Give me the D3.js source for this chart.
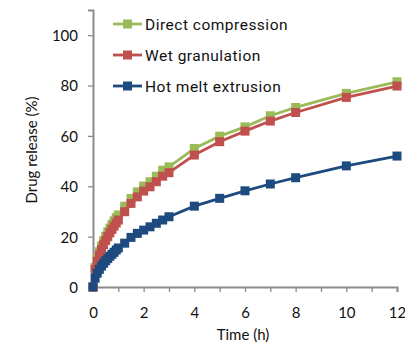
<!DOCTYPE html>
<html>
<head>
<meta charset="utf-8">
<script src="https://cdn.jsdelivr.net/npm/d3@7"></script>
<style>
  html, body { margin: 0; padding: 0; background: #fff; }
  svg { display: block; }
  text { font-family: Lato, "Open Sans", sans-serif; fill: #111; }
  .legend text { font-family: Roboto, "Open Sans", sans-serif; letter-spacing: 0.5px; }
</style>
</head>
<body>
<svg id="chart" width="405" height="343"></svg>
<script>
// Sampling times (h)
const times = [0, 0.083, 0.167, 0.25, 0.333, 0.417, 0.5, 0.583, 0.667, 0.75, 0.833, 0.917, 1,
  1.25, 1.5, 1.75, 2, 2.25, 2.5, 2.75, 3, 4, 5, 6, 7, 8, 10, 12];

// Cumulative drug release (%) for each formulation
const directCompression = [0, 7.8, 11.3, 14.0, 16.3, 18.3, 20.2, 21.9, 23.4, 24.9, 26.3, 27.5, 28.6,
  32.1, 35.2, 37.8, 40.1, 41.8, 44.0, 46.4, 47.7, 55.0, 59.9, 63.6, 68.0, 71.3, 76.9, 81.5];
const wetGranulation = [0, 7.0, 10.2, 12.8, 14.9, 16.8, 18.5, 20.0, 21.5, 22.9, 24.2, 25.4, 26.6,
  29.9, 33.2, 35.8, 38.1, 39.8, 41.8, 44.0, 45.4, 52.4, 57.7, 61.9, 65.9, 69.3, 75.3, 79.8];
const hotMeltExtrusion = [0, 3.5, 5.5, 7.0, 8.3, 9.4, 10.4, 11.3, 12.2, 13.0, 13.8, 14.7, 15.5,
  17.4, 19.7, 21.3, 22.6, 23.9, 25.3, 26.6, 27.9, 32.1, 35.2, 38.2, 40.9, 43.4, 48.1, 52.0];

const seriesNames = ["Direct compression", "Wet granulation", "Hot melt extrusion"];
const seriesColors = ["#9bbb59", "#c0504d", "#1d4b80"];
const xTicks = [0, 2, 4, 6, 8, 10, 12];
const xMinorTicks = d3.range(0, 13, 1);
const yTicks = [0, 20, 40, 60, 80, 100];

const series = [directCompression, wetGranulation, hotMeltExtrusion].map((vals, i) => ({
  name: seriesNames[i],
  color: seriesColors[i],
  points: times.map((t, j) => ({ t, v: vals[j] }))
}));

const svg = d3.select("#chart");
const x = d3.scaleLinear().domain([0, 12]).range([93, 397]);
const y = d3.scaleLinear().domain([0, 110]).range([287, 10]);

const axisColor = "#8c8c8c";

// X axis
const gx = svg.append("g").attr("transform", "translate(0,287)");
gx.call(d3.axisBottom(x).tickValues(xMinorTicks).tickSize(5).tickFormat(""));
gx.select(".domain").attr("stroke", axisColor).attr("stroke-width", 2);
gx.selectAll(".tick line").attr("stroke", axisColor).attr("stroke-width", 1.3);
gx.selectAll(".tick").filter(d => xTicks.includes(d)).append("text")
  .attr("y", 31).attr("text-anchor", "middle")
  .style("font-size", "15px").text(d => d);

// Y axis
const gy = svg.append("g").attr("transform", "translate(93,0)");
gy.call(d3.axisLeft(y).tickValues(yTicks).tickSize(5).tickFormat(""));
gy.select(".domain").attr("stroke", axisColor).attr("stroke-width", 2);
gy.selectAll(".tick line").attr("stroke", axisColor).attr("stroke-width", 1.3);
gy.selectAll(".tick").append("text")
  .attr("x", -15).attr("dy", "0.36em").attr("text-anchor", "end")
  .style("font-size", "15px").text(d => d);

// Axis titles
svg.append("text").attr("x", 243).attr("y", 340).attr("text-anchor", "middle")
  .style("font-size", "15px").text("Time (h)");
svg.append("text").attr("transform", "translate(37,150) rotate(-90)")
  .attr("text-anchor", "middle").style("font-size", "15px").text("Drug release (%)");

// Lines and markers
const line = d3.line().x(d => x(d.t)).y(d => y(d.v));
const ms = 9;
series.forEach(s => {
  const g = svg.append("g");
  g.append("path").datum(s.points).attr("d", line)
    .attr("fill", "none").attr("stroke", s.color).attr("stroke-width", 2.8);
  g.selectAll("rect").data(s.points).join("rect")
    .attr("x", d => x(d.t) - ms / 2).attr("y", d => y(d.v) - ms / 2)
    .attr("width", ms).attr("height", ms).attr("fill", s.color);
});

// Legend
const legend = svg.append("g").attr("class", "legend");
series.forEach((s, i) => {
  const ly = 24 + i * 31;
  legend.append("line").attr("x1", 113).attr("x2", 142).attr("y1", ly).attr("y2", ly)
    .attr("stroke", s.color).attr("stroke-width", 2.8);
  legend.append("rect").attr("x", 127.5 - ms / 2).attr("y", ly - ms / 2)
    .attr("width", ms).attr("height", ms).attr("fill", s.color);
  legend.append("text").attr("x", 145).attr("y", ly).attr("dy", "0.36em")
    .style("font-size", "15.5px").text(s.name);
});
</script>
</body>
</html>
